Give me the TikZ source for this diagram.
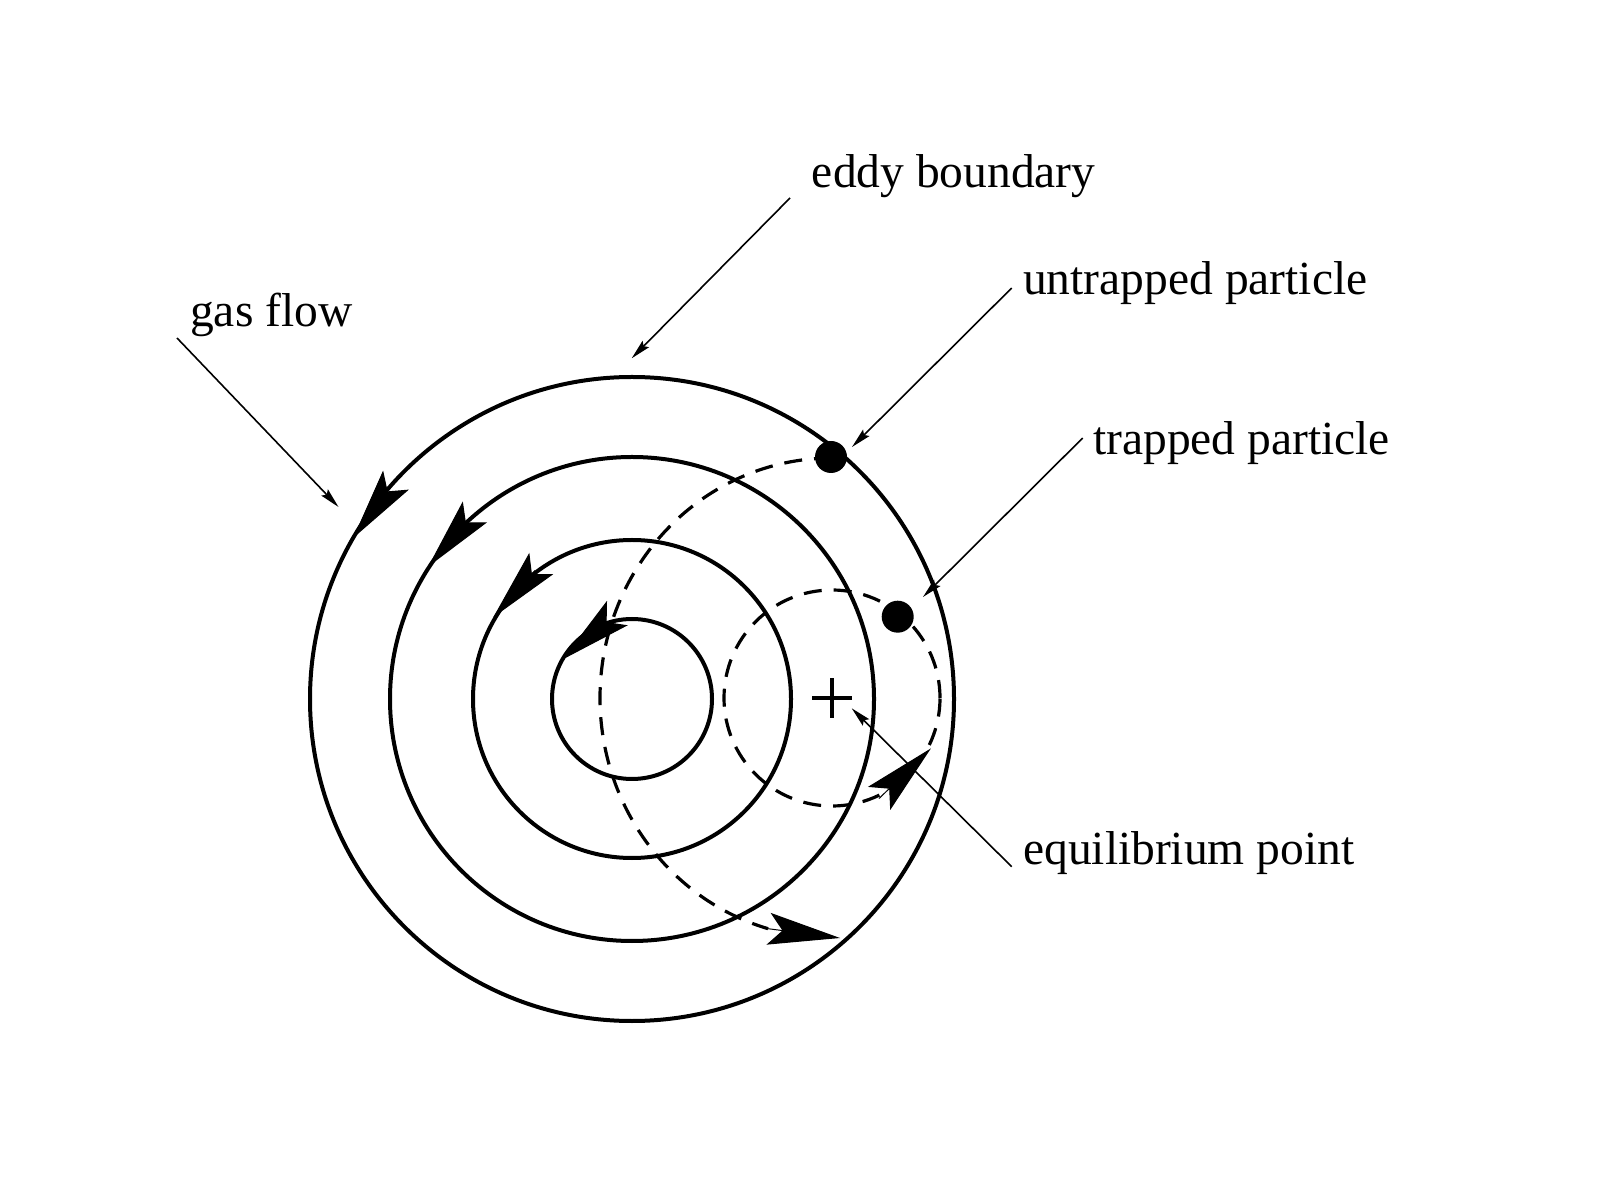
\documentclass[tikz,border=0pt]{standalone}
\usepackage{fontspec}
\setmainfont{Liberation Serif}
\usetikzlibrary{arrows.meta}

\tikzset{
  orbit/.style={line width=4pt},
  path dashed/.style={line width=3.2pt, dash pattern=on 18pt off 12pt},
  flowhead/.style={line width=1pt, -{Stealth[length=72pt, width=32pt, inset=14pt]}},
  leader/.style={line width=1.6pt, -{Stealth[length=20pt, width=9pt, inset=3pt]}},
  label/.style={anchor=base west, inner sep=0pt, font=\fontsize{47.5}{57}\selectfont},
  particle/.style={circle, fill=black, minimum size=32pt, inner sep=0pt}
}

\begin{document}
\begin{tikzpicture}[x=1pt, y=1pt]
  \useasboundingbox (0,0) rectangle (1600,1200);

  % centres: eddy centre and equilibrium point
  \coordinate (C) at (632,501);
  \coordinate (E) at (832,502);

  % concentric streamlines of the eddy
  \draw[orbit] (C) circle[radius=322];
  \draw[orbit] (C) circle[radius=242];
  \draw[orbit] (C) circle[radius=159];
  \draw[orbit] (C) circle[radius=80];

  % flow direction heads on the streamlines
  \path (C) ++(150:322) coordinate (h1t);
  \path (C) ++(137:322) coordinate (h1b);
  \path (C) ++(147:243) coordinate (h2t);
  \path (C) ++(132:243) coordinate (h2b);
  \path (C) ++(149.5:161) coordinate (h3t);
  \path (C) ++(127:161) coordinate (h3b);
  \path (C) ++(150.5:80) coordinate (h4t);
  \path (C) ++(110:80) coordinate (h4b);
  \draw[flowhead] (h1b) -- (h1t);
  \draw[flowhead] (h2b) -- (h2t);
  \draw[flowhead] (h3b) -- (h3t);
  \draw[flowhead] (h4b) -- (h4t);

  % trapped particle orbit around the equilibrium point
  \draw[path dashed] (E) circle[radius=108];
  \path (E) ++(-65:111) coordinate (tb);
  \path (E) ++(-27:111) coordinate (tt);
  \draw[flowhead] (tb) -- (tt);

  % untrapped particle path
  \path (E) ++(0,240) coordinate (us);
  \draw[path dashed] (us) arc[start angle=90, end angle=254, x radius=232, y radius=240] coordinate (ub);
  \coordinate (ut) at (840,262);
  \draw[flowhead] (ub) -- (ut);

  % particles
  \node[particle] (up) at (831,743) {};
  \node[particle] (tp) at (897.7,583.3) {};

  % equilibrium point marker
  \draw[line width=4pt] (812,502) -- (852,502);
  \draw[line width=4pt] (832,482) -- (832,522);

  % labels
  \node[label] (lgas) at (190,873.3) {gas flow};
  \node[label] (leddy) at (811.7,1012.7) {eddy boundary};
  \node[label] (lun) at (1023,905) {untrapped particle};
  \node[label] (ltr) at (1093,745) {trapped particle};
  \node[label] (leq) at (1023,335) {equilibrium point};

  % leader lines
  \coordinate (gs) at (177,862);      \coordinate (ge) at (338.5,693);
  \coordinate (es) at (790,1002);     \coordinate (ee) at (631.7,841.7);
  \coordinate (us1) at (1011.7,912);  \coordinate (ue) at (852,753);
  \coordinate (ts) at (1082.7,762);   \coordinate (te) at (923,603);
  \coordinate (qs) at (1011.7,333.3); \coordinate (qe) at (851.7,491.7);
  \draw[leader] (gs) -- (ge);
  \draw[leader] (es) -- (ee);
  \draw[leader] (us1) -- (ue);
  \draw[leader] (ts) -- (te);
  \draw[leader] (qs) -- (qe);
\end{tikzpicture}
\end{document}
